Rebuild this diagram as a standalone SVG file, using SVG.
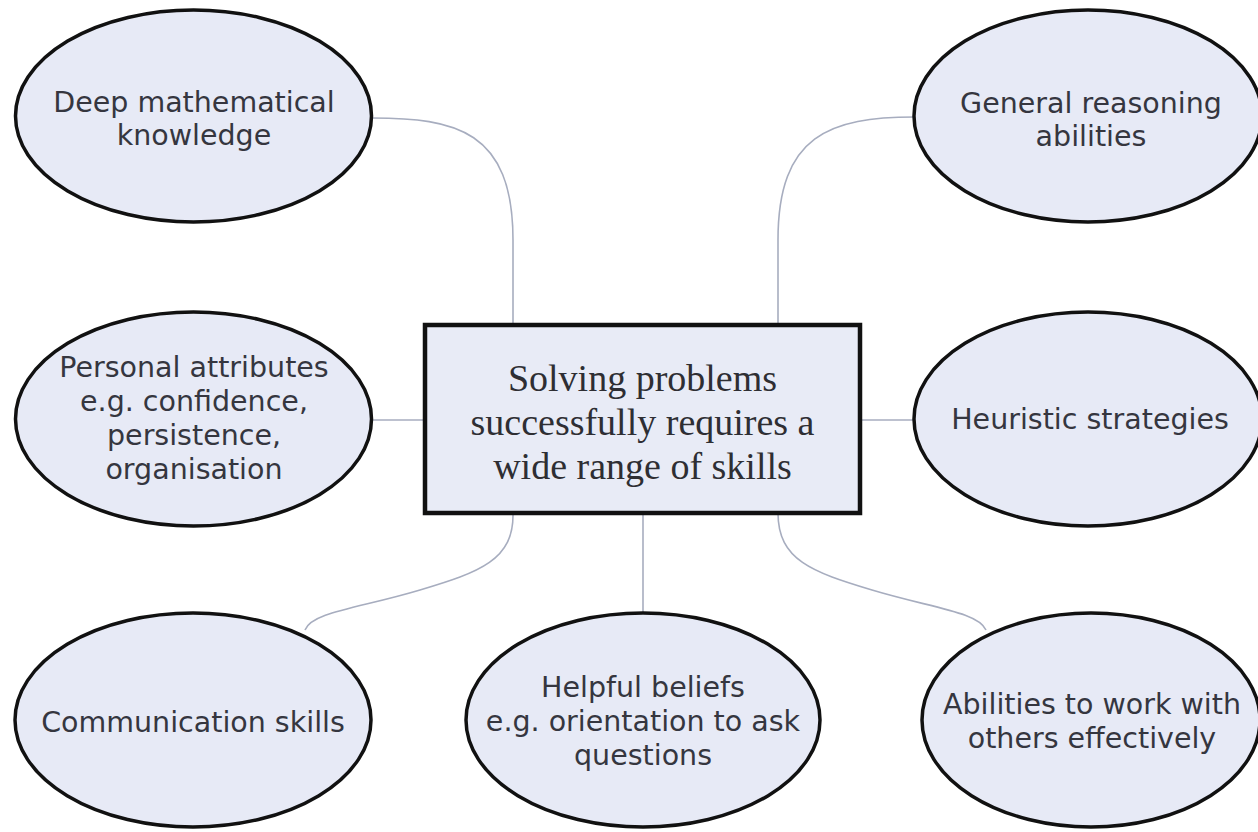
<svg xmlns="http://www.w3.org/2000/svg" width="1258" height="832" viewBox="0 0 1258 832">
<style>
.bg{fill:#ffffff}
.node ellipse{fill:#e7eaf6;stroke:#111111;stroke-width:3.5}
.node rect{fill:#e8ebf6;stroke:#111111;stroke-width:4.5}
.lbl{font-family:"DejaVu Sans",Verdana,sans-serif;font-size:28.5px;fill:#35363f;text-anchor:middle}
.ctr{font-family:"Liberation Serif","Times New Roman",serif;font-size:38px;fill:#2e2e33;text-anchor:middle}
.conn path{fill:none;stroke:#a7adbf;stroke-width:1.6}
</style>
<rect class="bg" x="0" y="0" width="1258" height="832"/>
<g id="connectors" class="conn">
<path d="M372,118 C455,118 513,130 513,240 L513,325"/>
<path d="M778,325 L778,240 C778,135 830,117 915,117"/>
<path d="M372,420 L425,420"/>
<path d="M860,420 L915,420"/>
<path d="M513,513 C514,560 480,572 420,590 C360,608 312,612 305,630"/>
<path d="M643,513 L643,613"/>
<path d="M778,513 C778,560 812,572 872,590 C932,608 978,612 986,630"/>
</g>
<g id="n-deep" class="node">
<ellipse cx="193.5" cy="116" rx="178" ry="106"/>
<text class="lbl" x="194" y="112">Deep mathematical</text>
<text class="lbl" x="194" y="145">knowledge</text>
</g>
<g id="n-general" class="node">
<ellipse cx="1088" cy="116" rx="174" ry="106"/>
<text class="lbl" x="1091" y="113">General reasoning</text>
<text class="lbl" x="1091" y="146">abilities</text>
</g>
<g id="n-personal" class="node">
<ellipse cx="193.5" cy="419" rx="178" ry="107"/>
<text class="lbl" x="194" y="377">Personal attributes</text>
<text class="lbl" x="194" y="411">e.g. confidence,</text>
<text class="lbl" x="194" y="445">persistence,</text>
<text class="lbl" x="194" y="479">organisation</text>
</g>
<g id="n-center" class="node">
<rect x="425" y="325" width="435" height="188"/>
<text class="ctr" x="642.5" y="391">Solving problems</text>
<text class="ctr" x="642.5" y="435">successfully requires a</text>
<text class="ctr" x="642.5" y="479">wide range of skills</text>
</g>
<g id="n-heuristic" class="node">
<ellipse cx="1088" cy="419" rx="174" ry="107"/>
<text class="lbl" x="1090" y="429">Heuristic strategies</text>
</g>
<g id="n-communication" class="node">
<ellipse cx="193" cy="720" rx="178" ry="107"/>
<text class="lbl" x="193" y="732">Communication skills</text>
</g>
<g id="n-beliefs" class="node">
<ellipse cx="643" cy="720" rx="177" ry="107"/>
<text class="lbl" x="643" y="697">Helpful beliefs</text>
<text class="lbl" x="643" y="731">e.g. orientation to ask</text>
<text class="lbl" x="643" y="765">questions</text>
</g>
<g id="n-abilities" class="node">
<ellipse cx="1091" cy="720" rx="169" ry="107"/>
<text class="lbl" x="1092" y="714">Abilities to work with</text>
<text class="lbl" x="1092" y="748">others effectively</text>
</g>
</svg>
